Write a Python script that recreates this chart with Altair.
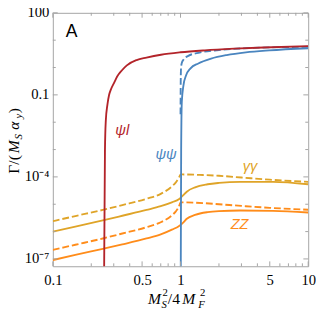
import altair as alt
import pandas as pd

# ---------------- data ----------------
PSI_L_X = [0.25, 0.256, 0.2598, 0.2676, 0.2757, 0.2836, 0.303, 0.319, 0.348, 0.380, 0.453, 0.541, 0.703, 1.0, 1.55, 2.63, 4.46, 10]
PSI_L_Y = [1e-10, 9.5e-4, 0.011, 0.0439, 0.099, 0.149, 0.286, 0.468, 0.796, 1.20, 1.87, 2.30, 2.94, 3.61, 4.25, 4.88, 5.42, 6.03]

PSIPSI_X = [1.0, 1.0116, 1.0235, 1.0536, 1.104, 1.198, 1.379, 1.736, 2.30, 3.25, 4.95, 10]
PSIPSI_Y = [1e-10, 9.5e-4, 0.056, 0.219, 0.508, 0.937, 1.41, 2.12, 2.86, 3.60, 4.25, 5.08]

PSIPSI_D_X = [1.0, 1.0035, 1.0088, 1.023, 1.054, 1.15, 1.41, 2.0, 3.0, 10]
PSIPSI_D_Y = [0.0194, 0.286, 0.90, 1.47, 1.92, 2.67, 3.52, 4.35, 5.0, 5.74]

GG_D_X = [0.1, 0.15, 0.246, 0.35, 0.542, 0.7, 0.865, 0.916, 0.97, 1.0, 1.03, 1.5, 2, 3, 5, 10]
GG_D_Y = [2.4e-6, 3.7e-6, 6.2e-6, 9.3e-6, 1.58e-5, 2.4e-5, 4.7e-5, 6.2e-5, 9.3e-5, 1.2e-4, 1.23e-4, 1.17e-4, 1.1e-4, 9.5e-5, 7.9e-5, 6.6e-5]

GG_X = [0.1, 0.15, 0.246, 0.35, 0.542, 0.7, 0.865, 0.97, 1.0, 1.05, 1.12, 1.3, 1.63, 2.0, 2.93, 5.3, 10]
GG_Y = [1.0e-6, 1.51e-6, 2.57e-6, 3.8e-6, 6.2e-6, 8.5e-6, 1.2e-5, 1.51e-5, 1.7e-5, 2.14e-5, 2.88e-5, 4.17e-5, 5.37e-5, 6.03e-5, 6.6e-5, 6.6e-5, 5.37e-5]

ZZ_D_X = [0.1, 0.15, 0.246, 0.35, 0.542, 0.7, 0.865, 0.916, 0.97, 1.0, 1.03, 1.5, 2, 3, 5, 10]
ZZ_D_Y = [2.14e-7, 3.3e-7, 5.6e-7, 8.5e-7, 1.45e-6, 2.19e-6, 4.07e-6, 5.37e-6, 8.1e-6, 1.15e-5, 1.17e-5, 1.1e-5, 1.0e-5, 8.7e-6, 7.4e-6, 6.3e-6]

ZZ_X = [0.1, 0.15, 0.246, 0.35, 0.542, 0.7, 0.865, 0.97, 1.0, 1.05, 1.12, 1.3, 1.63, 2.0, 2.93, 5.3, 10]
ZZ_Y = [9.1e-8, 1.41e-7, 2.34e-7, 3.4e-7, 5.6e-7, 7.9e-7, 1.2e-6, 1.58e-6, 1.74e-6, 2.14e-6, 2.95e-6, 4.07e-6, 5.13e-6, 5.6e-6, 5.9e-6, 5.75e-6, 5.0e-6]

LABEL_TEXT = ["ψl", "ψψ", "γγ", "ZZ"]
LABEL_X = [0.35, 0.77, 3.5, 2.9]
LABEL_Y = [5.1e-3, 6.65e-4, 2.4e-4, 1.86e-6]

PANEL_TEXT = ["A"]
PANEL_X = [0.14]
PANEL_Y = [20]

X_LABELS = [0.1, 0.5, 1, 5, 10]
X_MINOR = [0.2, 0.3, 0.4, 0.6, 0.7, 0.8, 0.9, 2, 3, 4, 6, 7, 8, 9]
Y_LABELS = [1e-7, 1e-4, 0.1, 100]
Y_MINOR = [1e-6, 1e-5, 1e-3, 1e-2, 1, 10]

# ---------------- style ----------------
RED = "#B3242A"
BLUE = "#4A85BF"
GOLD = "#DFA428"
ORANGE = "#FF8C1A"
FRAME = "#a3a3a3"
W, H = 262, 260
SERIF = "Liberation Serif"
SANS = "Liberation Sans"

xs = alt.Scale(type="log", domain=[0.1, 10], nice=False)
ys = alt.Scale(type="log", domain=[5.4e-8, 100], nice=False)

xaxis = alt.Axis(values=X_LABELS,
                 labelExpr="datum.value < 0.3 ? '0.1' : datum.value < 0.8 ? '0.5' : "
                           "datum.value < 3 ? '1' : datum.value < 8 ? '5' : '10'",
                 ticks=False, domain=False, grid=False, title=None,
                 labelFont=SERIF, labelFontSize=15, labelColor="black",
                 labelPadding=7, labelFlush=False, labelOverlap=False)
yaxis = alt.Axis(values=Y_LABELS,
                 labelExpr="datum.value > 10 ? '100' : datum.value > 0.01 ? '0.1' : "
                           "datum.value > 1e-6 ? '10\u207b\u2074' : '10\u207b\u2077'",
                 ticks=False, domain=False, grid=False, title=None,
                 labelFont=SERIF, labelFontSize=15, labelColor="black",
                 labelPadding=4, labelOffset=-1, labelFlush=False,
                 labelOverlap=False)

ONE = pd.DataFrame({"a": [0]})


def X(field):
    return alt.X(field, scale=xs, axis=xaxis)


def Y(field):
    return alt.Y(field, scale=ys, axis=yaxis)


def curve(xv, yv, color, dash=None):
    df = pd.DataFrame({"x": xv, "y": yv})
    kw = dict(color=color, strokeWidth=1.9, clip=True, interpolate="monotone")
    if dash:
        kw["strokeDash"] = dash
    return alt.Chart(df).mark_line(**kw).encode(x=X("x:Q"), y=Y("y:Q"))


def xticks(vals, length, top):
    df = pd.DataFrame({"x": vals})
    y0 = 0 if top else H
    y1 = length if top else H - length
    return alt.Chart(df).mark_rule(color=FRAME, strokeWidth=1).encode(
        x=X("x:Q"), y=alt.value(y0), y2=alt.value(y1))


def yticks(vals, length, right):
    df = pd.DataFrame({"y": vals})
    x0 = W if right else 0
    x1 = W - length if right else length
    return alt.Chart(df).mark_rule(color=FRAME, strokeWidth=1).encode(
        y=Y("y:Q"), x=alt.value(x0), x2=alt.value(x1))


def piece(text, px, py, size, italic, angle=0):
    return alt.Chart(ONE).mark_text(
        text=text, font=SERIF, fontSize=size,
        fontStyle="italic" if italic else "normal",
        align="left", baseline="alphabetic", angle=angle, color="black",
    ).encode(x=alt.value(px), y=alt.value(py))


layers = [
    curve(ZZ_X, ZZ_Y, ORANGE),
    curve(ZZ_D_X, ZZ_D_Y, ORANGE, dash=[7, 3]),
    curve(GG_X, GG_Y, GOLD),
    curve(GG_D_X, GG_D_Y, GOLD, dash=[7, 3]),
    curve(PSIPSI_D_X, PSIPSI_D_Y, BLUE, dash=[7, 3]),
    curve(PSIPSI_X, PSIPSI_Y, BLUE),
    curve(PSI_L_X, PSI_L_Y, RED),
    xticks(X_LABELS, 5, False), xticks(X_MINOR, 3, False),
    xticks(X_LABELS, 5, True), xticks(X_MINOR, 3, True),
    yticks(Y_LABELS, 5, False), yticks(Y_MINOR, 3, False),
    yticks(Y_LABELS, 5, True), yticks(Y_MINOR, 3, True),
]

lab_df = pd.DataFrame({"t": LABEL_TEXT, "x": LABEL_X, "y": LABEL_Y,
                       "c": LABEL_TEXT})
layers.append(
    alt.Chart(lab_df).mark_text(font=SANS, fontSize=15, fontStyle="italic",
                                align="center", baseline="middle").encode(
        x=X("x:Q"), y=Y("y:Q"),
        text="t:N",
        color=alt.Color("c:N", scale=alt.Scale(domain=LABEL_TEXT,
                                               range=[RED, BLUE, GOLD, ORANGE]),
                        legend=None),
    )
)
panel_df = pd.DataFrame({"t": PANEL_TEXT, "x": PANEL_X, "y": PANEL_Y})
layers.append(
    alt.Chart(panel_df).mark_text(font=SANS, fontSize=18, color="black",
                                  align="center", baseline="middle").encode(
        x=X("x:Q"), y=Y("y:Q"), text="t:N",
    )
)

# x title  M_S^2 / 4 M_F^2
layers += [
    piece("M", 97.7, 299, 16, True),
    piece("S", 111.5, 302.5, 11, True),
    piece("2", 112.5, 290.5, 11, False),
    piece("/4", 118, 299, 16, False),
    piece("M", 132.7, 299, 16, True),
    piece("F", 149.3, 302.5, 11, True),
    piece("2", 151, 290.5, 11, False),
]
# y title  Γ/(M_S α_y)  rotated
layers += [
    piece("Γ/(", -35, 165, 16, False, 270),
    piece("M", -35, 144, 16, True, 270),
    piece("S", -31.5, 130, 11, True, 270),
    piece("α", -35, 120, 16, True, 270),
    piece("y", -31.5, 108.5, 11, True, 270),
    piece(")", -35, 103, 16, False, 270),
]

chart = alt.layer(*layers).properties(
    width=W, height=H,
    autosize=alt.AutoSizeParams(type="none"),
    padding={"left": 46, "top": 1, "right": 8, "bottom": 44},
    background="white",
).configure_view(stroke=FRAME, strokeWidth=1)

chart.save("out.html", embed_options={"renderer": "svg", "actions": False})
